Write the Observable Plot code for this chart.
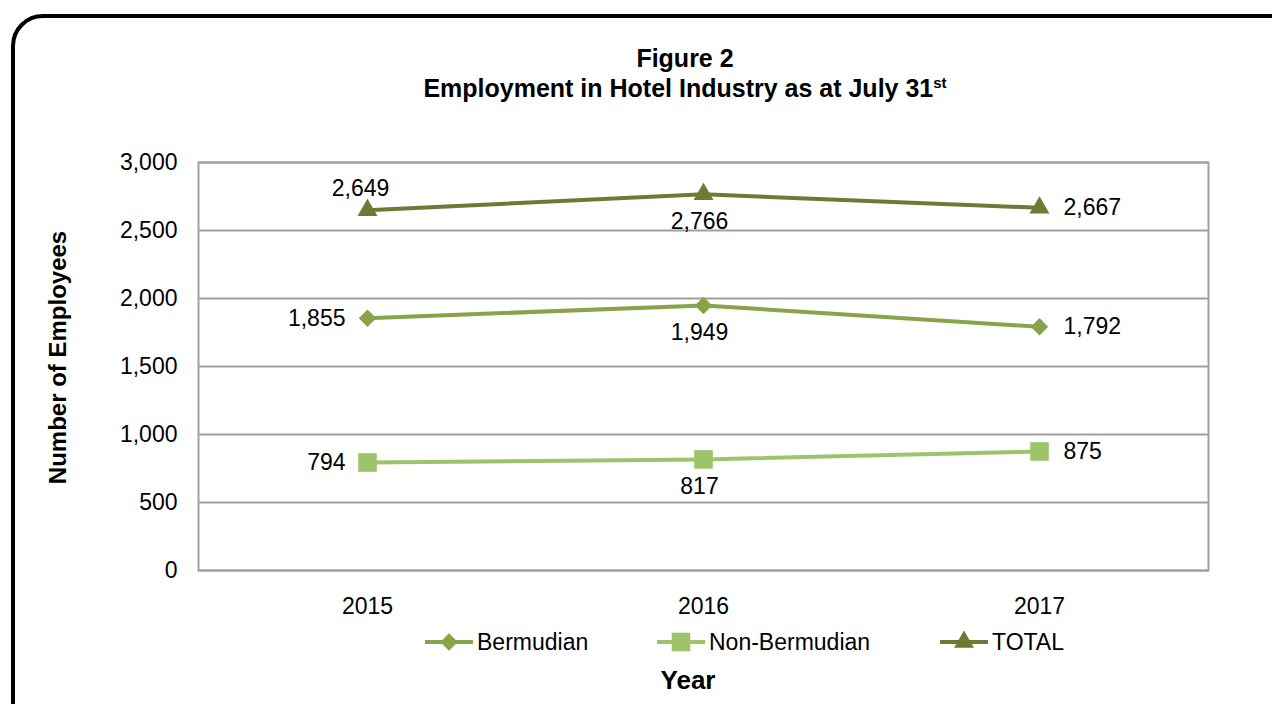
<!DOCTYPE html>
<html>
<head>
<meta charset="utf-8">
<script src="https://cdn.jsdelivr.net/npm/d3@7"></script>
<script src="https://cdn.jsdelivr.net/npm/@observablehq/plot@0.6"></script>
<style>
  html, body { margin: 0; padding: 0; background: #fff; }
  body { width: 1272px; height: 704px; overflow: hidden; position: relative;
         font-family: "Liberation Sans", Arial, Helvetica, sans-serif; color: #000; }
  #box { position: absolute; left: 11px; top: 14px; width: 1300px; height: 760px;
         border: 4px solid #000; border-radius: 32px; box-sizing: border-box; }
  #title { position: absolute; left: 285px; width: 800px; top: 43px; text-align: center;
           font-weight: bold; font-size: 25px; line-height: 30px; }
  #title sup { font-size: 15px; vertical-align: 9px; line-height: 0; }
  #chart { position: absolute; left: 0; top: 120px; }
  #legend { position: absolute; left: 0; top: 627px; width: 1272px; height: 30px; font-size: 23px; }
  .item { position: absolute; top: 0; height: 30px; display: flex; align-items: center; }
  .item svg { display: block; margin-right: 4px; }
  #xlabel { position: absolute; left: 588px; width: 200px; top: 664px; text-align: center;
            font-weight: bold; font-size: 26px; line-height: 32px; }
</style>
</head>
<body>
<div id="box"></div>
<div id="title">Figure 2<br>Employment in Hotel Industry as at July 31<sup>st</sup></div>
<div id="chart"></div>
<div id="legend"></div>
<div id="xlabel">Year</div>
<script>
const years = ["2015", "2016", "2017"];
const seriesNames = ["Bermudian", "Non-Bermudian", "TOTAL"];
const bermudian = [1855, 1949, 1792];
const nonBermudian = [794, 817, 875];
const total = [2649, 2766, 2667];
const yTicks = [0, 500, 1000, 1500, 2000, 2500, 3000];
// where each value label sits relative to its point
const labelPlacement = {
  "Bermudian": ["left", "below", "right"],
  "Non-Bermudian": ["left", "below", "right"],
  "TOTAL": ["above", "below", "right"]
};

const colors = { "Bermudian": "#88a44a", "Non-Bermudian": "#9dc46a", "TOTAL": "#6a7b34" };
const symbols = { "Bermudian": "diamond2", "Non-Bermudian": "square", "TOTAL": "triangle" };
const radii = { "Bermudian": 7.9, "Non-Bermudian": 10.5, "TOTAL": 7.4 };

const valuesBySeries = { "Bermudian": bermudian, "Non-Bermudian": nonBermudian, "TOTAL": total };
const rows = [];
for (const s of seriesNames) {
  valuesBySeries[s].forEach((v, i) => rows.push({ series: s, year: years[i], value: v, place: labelPlacement[s][i] }));
}

const fmt = d3.format(",d");
const offsets = {
  above: { dx: -7, dy: -22, anchor: "middle" },
  below: { dx: -4, dy: 27, anchor: "middle" },
  left: { dx: -22, dy: 0, anchor: "end" },
  right: { dx: 24, dy: 0, anchor: "start" }
};

const FONT = "'Liberation Sans', Arial, Helvetica, sans-serif";
const marks = [
  Plot.gridY(yTicks, { stroke: "#a0a0a0", strokeOpacity: 1, strokeWidth: 2 }),
  Plot.frame({ stroke: "#a0a0a0", strokeWidth: 2 }),
  Plot.axisY(yTicks, { tickSize: 0, tickPadding: 21, tickFormat: fmt, fontSize: 23, label: null }),
  Plot.axisX(years, { tickSize: 0, tickPadding: 27, fontSize: 23, label: null }),
  Plot.text(["Number of Employees"], { frameAnchor: "left", textAnchor: "middle", dx: -140, dy: -9, rotate: -90, fontWeight: "bold", fontSize: 24 })
];
for (const s of seriesNames) {
  const d = rows.filter(r => r.series === s);
  marks.push(Plot.line(d, { x: "year", y: "value", stroke: colors[s], strokeWidth: 4 }));
  marks.push(Plot.dot(d, { x: "year", y: "value", symbol: () => symbols[s], r: radii[s], fill: colors[s], stroke: "none" }));
  for (const p of Object.keys(offsets)) {
    const sub = d.filter(r => r.place === p);
    if (!sub.length) continue;
    marks.push(Plot.text(sub, { x: "year", y: "value", text: r => fmt(r.value), dx: offsets[p].dx, dy: offsets[p].dy, textAnchor: offsets[p].anchor, fontSize: 23, fill: "#000" }));
  }
}

const chart = Plot.plot({
  width: 1272,
  height: 505,
  marginLeft: 198,
  marginRight: 64,
  marginTop: 42,
  marginBottom: 55,
  style: { fontFamily: FONT, fontSize: "23px", color: "#000", background: "transparent", overflow: "visible" },
  x: { type: "point", domain: years, padding: 0.5, axis: null },
  y: { domain: [0, 3000], axis: null },
  symbol: { type: "identity" },
  marks
});
document.getElementById("chart").appendChild(chart);

// legend
const legend = document.getElementById("legend");
const itemLeft = [425, 657, 940];
seriesNames.forEach((s, i) => {
  const item = document.createElement("div");
  item.className = "item";
  item.style.left = itemLeft[i] + "px";
  const sym = d3.symbol(d3["symbol" + { "diamond2": "Diamond2", "square": "Square", "triangle": "Triangle" }[symbols[s]]], Math.PI * radii[s] * radii[s])();
  item.innerHTML = `<svg width="48" height="24"><line x1="0" x2="48" y1="12" y2="12" stroke="${colors[s]}" stroke-width="4"/><path transform="translate(24,12)" d="${sym}" fill="${colors[s]}"/></svg><span>${s}</span>`;
  legend.appendChild(item);
});
</script>
</body>
</html>
